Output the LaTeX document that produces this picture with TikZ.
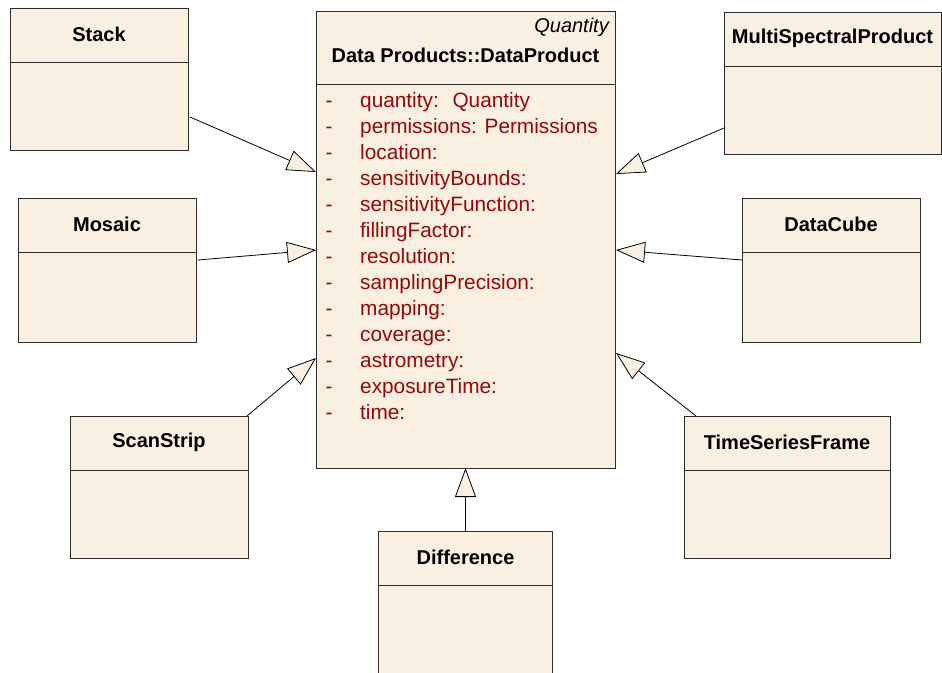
\documentclass[tikz,border=0pt]{standalone}
\usepackage{fontspec}
\setmainfont{Liberation Sans}
\usetikzlibrary{arrows.meta,calc}
\definecolor{boxfill}{RGB}{250,240,226}
\definecolor{attrred}{RGB}{150,8,8}
\definecolor{boxline}{RGB}{45,45,45}
\tikzset{
  cls/.style={draw=boxline, fill=boxfill, line width=0.9pt, rectangle, inner sep=0pt, outer sep=0pt},
  ctitle/.style={font=\fontsize{20}{24}\selectfont\bfseries, text=black, inner sep=0pt},
  attr/.style={font=\fontsize{20.8}{25}\selectfont, text=attrred, inner sep=0pt, anchor=base west},
  dashmark/.style={font=\fontsize{20.8}{25}\selectfont, text=attrred, inner sep=0pt, anchor=base},
  divider/.style={draw=boxline, line width=0.9pt},
  gen/.style={draw=black, line width=0.8pt, -{Triangle[length=29pt,width=21pt,fill=boxfill]}},
}
\newcommand\umlbox[6]{%
  \node[cls, minimum width=#4pt, minimum height=#5pt] (#1) at (#2,#3) {};
  \draw[divider] ([yshift=-54pt]#1.north west) -- ([yshift=-54pt]#1.north east);
  \node[ctitle] (#1-title) at ([yshift=-26pt]#1.north) {#6};
}
\begin{document}
\begin{tikzpicture}[x=1pt,y=-1pt]
\useasboundingbox (0,0) rectangle (942,672);
\clip (0,0) rectangle (942,672);
\fill[white] (0,0) rectangle (942,672);

% main class
\node[cls, minimum width=299pt, minimum height=457pt] (main) at (465.5,239.5) {};
\draw[divider] ([yshift=-73pt]main.north west) -- ([yshift=-73pt]main.north east);
\node[font=\fontsize{20}{24}\selectfont\itshape, anchor=base east, inner sep=0pt] (stereo) at (609,32) {Quantity};
\node[ctitle, anchor=base] (maintitle) at (465.5,62) {Data Products::DataProduct};
\foreach \t [count=\i from 0] in {quantity:\hspace{6pt} Quantity, permissions: Permissions, location:, sensitivityBounds:, sensitivityFunction:, fillingFactor:, resolution:, samplingPrecision:, mapping:, coverage:, astrometry:, exposureTime:, time:} {
  \node[dashmark] (d\i) at (329,107+26*\i) {-};
  \node[attr] (a\i) at (360,107+26*\i) {\t};
}

% subclasses
\umlbox{stack}{99}{79}{178}{142}{Stack}
\umlbox{mosaic}{107}{270}{178}{144}{Mosaic}
\umlbox{scan}{159}{487}{178}{142}{ScanStrip}
\umlbox{multi}{832.5}{83}{217}{142}{MultiSpectralProduct}
\umlbox{cube}{831}{270}{178}{144}{DataCube}
\umlbox{ts}{787}{487}{206}{142}{TimeSeriesFrame}
\umlbox{diff}{465.5}{602}{174}{142}{Difference}

% generalizations
\draw[gen] ([shift={(2,38)}]stack.east) -- ([shift={(0,-67.5)}]main.west);
\draw[gen] ([shift={(2,-10)}]mosaic.east) -- ([shift={(0,10.5)}]main.west);
\draw[gen] ([shift={(-1,0)}]scan.north east) -- ([shift={(0,118.5)}]main.west);
\draw[gen] ([shift={(0,45)}]multi.west) -- ([shift={(1,-65.5)}]main.east);
\draw[gen] ([shift={(0,-10)}]cube.west) -- ([shift={(1,10.5)}]main.east);
\draw[gen] ([shift={(12,0)}]ts.north west) -- ([shift={(1,113.5)}]main.east);
\draw[gen] (diff.north) -- (main.south);
\end{tikzpicture}
\end{document}
